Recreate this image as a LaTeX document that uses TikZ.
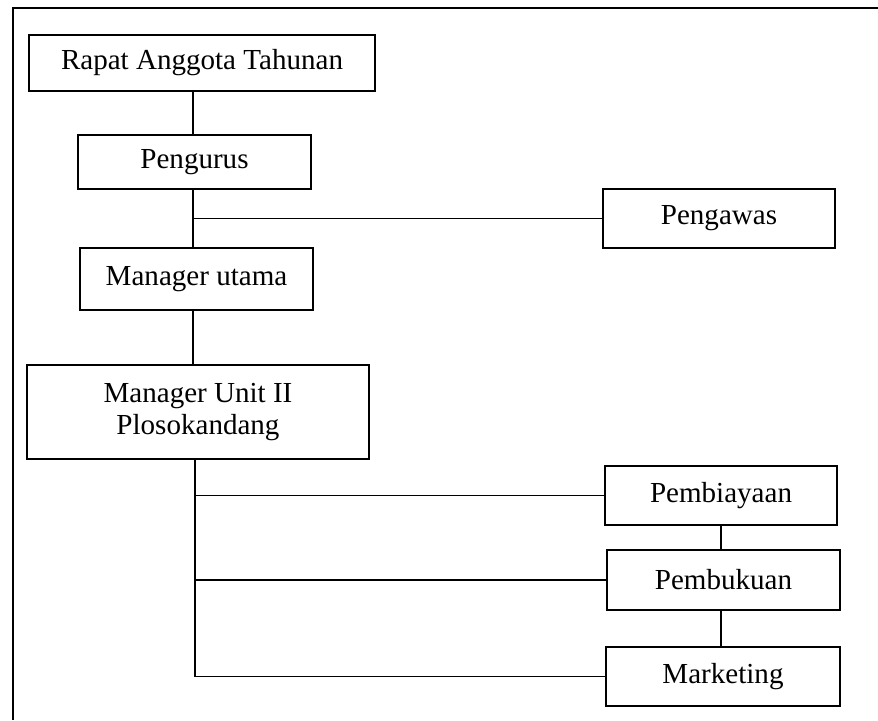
\documentclass[tikz,border=0pt]{standalone}
\usepackage{fontspec}
\setmainfont{Liberation Serif}
\usetikzlibrary{positioning, calc}

\tikzset{
  kotak/.style={draw=black, line width=1.6pt, fill=white, align=center,
                font=\fontsize{24.8}{27.3}\selectfont, inner sep=0pt},
  garis/.style={draw=black, line width=1.6pt}
}

\begin{document}
\begin{tikzpicture}[x=0.03cm, y=-0.03cm]
            \useasboundingbox (0,0) rectangle (878,720);
            % Bingkai luar
            \draw[garis] (13,720) -- (13,8) -- (878,8);

            % Pimpinan
            \node[kotak, minimum width=346*0.03cm, minimum height=56*0.03cm] (rat) at (202,63) {Rapat Anggota Tahunan};
            \node[kotak, minimum width=233*0.03cm, minimum height=54*0.03cm] (pengurus) at (194.5,162) {Pengurus};
            \node[kotak, minimum width=232*0.03cm, minimum height=59*0.03cm] (pengawas) at (719,218.5) {Pengawas};
            \node[kotak, minimum width=233*0.03cm, minimum height=62*0.03cm] (mutama) at (196.5,279) {Manager utama};
            \node[kotak, minimum width=342*0.03cm, minimum height=94*0.03cm] (munit) at (198,412) {Manager Unit II\\Plosokandang};

            % Bagian
            \node[kotak, minimum width=232*0.03cm, minimum height=59*0.03cm] (biaya) at (721,495.5) {Pembiayaan};
            \node[kotak, minimum width=233*0.03cm, minimum height=60*0.03cm] (buku) at (723.5,580) {Pembukuan};
            \node[kotak, minimum width=234*0.03cm, minimum height=59*0.03cm] (marketing) at (723,676.5) {Marketing};

            % Garis hubung
            \coordinate (atas) at (193,0);
            \coordinate (bawah) at (195,0);
            \draw[garis] (atas |- rat.south) -- (atas |- pengurus.north);
            \draw[garis] (atas |- pengurus.south) -- (atas |- mutama.north);
            \draw[garis] (atas |- pengawas.west) -- (pengawas.west);
            \draw[garis] (atas |- mutama.south) -- (atas |- munit.north);

            \draw[garis] (bawah |- munit.south) -- (bawah |- marketing.west) -- (marketing.west);
            \draw[garis] (bawah |- biaya.west) -- (biaya.west);
            \draw[garis] (bawah |- buku.west) -- (buku.west);
            \draw[garis] (biaya.south) -- (biaya.south |- buku.north);
            \draw[garis] (biaya.south |- buku.south) -- (biaya.south |- marketing.north);
        \end{tikzpicture}
\end{document}
